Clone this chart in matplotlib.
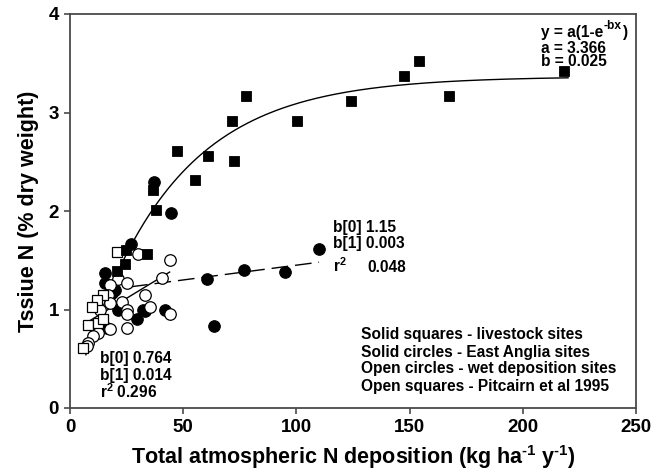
import numpy as np
import matplotlib
matplotlib.use("Agg")
import matplotlib.pyplot as plt

plt.rcParams['font.family'] = ['Liberation Sans', 'DejaVu Sans']
plt.rcParams['font.weight'] = 'bold'
plt.rcParams['mathtext.fontset'] = 'custom'
plt.rcParams['mathtext.rm'] = 'Liberation Sans:bold'
plt.rcParams['mathtext.it'] = 'Liberation Sans:bold'
plt.rcParams['mathtext.bf'] = 'Liberation Sans:bold'
plt.rcParams['mathtext.default'] = 'rm'

# ---- data ----
livestock_x = [20.6, 24.3, 24.8, 33.9, 36.6, 38.0, 47.2, 55.3, 60.9, 71.5, 72.3, 77.7,
               100.3, 123.9, 147.5, 154.1, 167.4, 218.3]
livestock_y = [1.39, 1.46, 1.60, 1.56, 2.21, 2.01, 2.61, 2.31, 2.56, 2.91, 2.51, 3.17,
               2.91, 3.12, 3.37, 3.52, 3.17, 3.42]

anglia_x = [15.5, 15.5, 19.9, 18.4, 21.4, 16.2, 27.0, 29.5, 32.4, 33.2, 37.3, 42.0,
            44.7, 60.5, 63.4, 76.7, 94.8, 109.9]
anglia_y = [1.37, 1.27, 1.20, 1.17, 1.00, 0.81, 1.67, 0.90, 1.00, 0.98, 2.29, 1.00,
            1.98, 1.31, 0.83, 1.40, 1.38, 1.61]

wet_x = [30.2, 44.2, 40.5, 21.4, 25.0, 17.7, 16.9, 22.8, 13.3, 17.7, 33.2, 35.4,
         25.0, 25.0, 44.2, 17.7, 25.0, 11.8, 12.5, 10.3, 8.1, 7.6]
wet_y = [1.56, 1.50, 1.32, 1.31, 1.27, 1.25, 1.15, 1.08, 1.00, 1.07, 1.15, 1.03,
         1.00, 0.95, 0.95, 0.80, 0.81, 0.81, 0.76, 0.73, 0.66, 0.63]

pitcairn_x = [20.6, 14.7, 11.8, 9.6, 8.1, 12.5, 14.7, 5.9]
pitcairn_y = [1.58, 1.15, 1.10, 1.03, 0.84, 0.86, 0.90, 0.61]

exp_a, exp_b = 3.366, 0.025
exp_range = [7, 220]
lin1_b0, lin1_b1 = 0.764, 0.014
lin1_range = [6, 44]
lin2_b0, lin2_b1 = 1.15, 0.003
lin2_range = [27, 110]

x_ticks = [0, 50, 100, 150, 200, 250]
y_ticks = [0, 1, 2, 3, 4]

# ---- figure ----
W, H = 662, 472
fig = plt.figure(figsize=(W / 100, H / 100), dpi=100)
L, R, T, B = 70, 636, 14, 408
ax = fig.add_axes([L / W, 1 - B / H, (R - L) / W, (B - T) / H])
ax.set_xlim(0, 250)
ax.set_ylim(0, 4)

frame_c = '#4a4a4a'
for s in ax.spines.values():
    s.set_color(frame_c)
    s.set_linewidth(1.3)
ax.tick_params(direction='out', length=4, width=1.2, color=frame_c,
               labelsize=13.5, pad=4, top=False, right=False)
ax.set_xticks(x_ticks)
ax.set_yticks(y_ticks)
for lab in ax.get_xticklabels() + ax.get_yticklabels():
    lab.set_fontweight('bold')

# fitted lines
xe = np.linspace(exp_range[0], exp_range[1], 300)
ax.plot(xe, exp_a * (1 - np.exp(-exp_b * xe)), color='black', lw=1.0, zorder=2)
xl = np.array(lin1_range)
ax.plot(xl, lin1_b0 + lin1_b1 * xl, color='black', lw=1.0, zorder=2)
xl2 = np.array(lin2_range)
ax.plot(xl2, lin2_b0 + lin2_b1 * xl2, color='black', lw=1.0, zorder=2,
        dashes=(12, 5))

# points
ax.plot(anglia_x, anglia_y, 'o', ms=8.3, mfc='black', mec='black', mew=0.8, zorder=3)
ax.plot(wet_x, wet_y, 'o', ms=8.3, mfc='white', mec='black', mew=0.9, zorder=4)
ax.plot(pitcairn_x, pitcairn_y, 's', ms=7.3, mfc='white', mec='black', mew=0.9, zorder=5)
ax.plot(livestock_x, livestock_y, 's', ms=7.3, mfc='black', mec='black', mew=0.6, zorder=6)

# labels
ax.set_xlabel(r'Total atmospheric N deposition (kg ha$^{\text{-1}}$ y$^{\text{-1}}$)',
              fontsize=15.5, fontweight='bold', labelpad=5)
ax.set_ylabel('Tssiue N (% dry weight)', fontsize=15.5, fontweight='bold', labelpad=7)

def px2d(px, py):
    return (px - L) / (R - L) * 250, (B - py) / (B - T) * 4

fs = 11.2
def txt(px, py, s):
    x, y = px2d(px, py)
    return ax.text(x, y, s, fontsize=fs, fontweight='bold', ha='left', va='baseline', zorder=7)

# formula with a larger hand-placed superscript
t1 = txt(541, 36.5, 'y = a(1-e')
t2 = ax.annotate('-bx', xy=(1, 0), xycoords=t1, xytext=(0.4, 5.6),
                 textcoords='offset points', ha='left', va='bottom',
                 fontsize=8.6, fontweight='bold', zorder=7)
ax.annotate(')', xy=(1, 0), xycoords=t2, xytext=(0.4, -5.6),
            textcoords='offset points', ha='left', va='bottom',
            fontsize=fs, fontweight='bold', zorder=7)
txt(541, 53, 'a = 3.366')
txt(541, 66.5, 'b = 0.025')

txt(333, 232, 'b[0] 1.15')
txt(333, 248, 'b[1] 0.003')
txt(333, 272, 'r$^{2}$')
txt(367, 272, '0.048')

txt(100, 363, 'b[0] 0.764')
txt(100, 380, 'b[1] 0.014')
txt(100, 398, 'r$^{2}$ 0.296')

txt(361, 339, 'Solid squares - livestock sites')
txt(361, 356.5, 'Solid circles - East Anglia sites')
txt(361, 373.5, 'Open circles - wet deposition sites')
txt(361, 391, 'Open squares - Pitcairn et al 1995')

fig.savefig('out.png', dpi=100)
